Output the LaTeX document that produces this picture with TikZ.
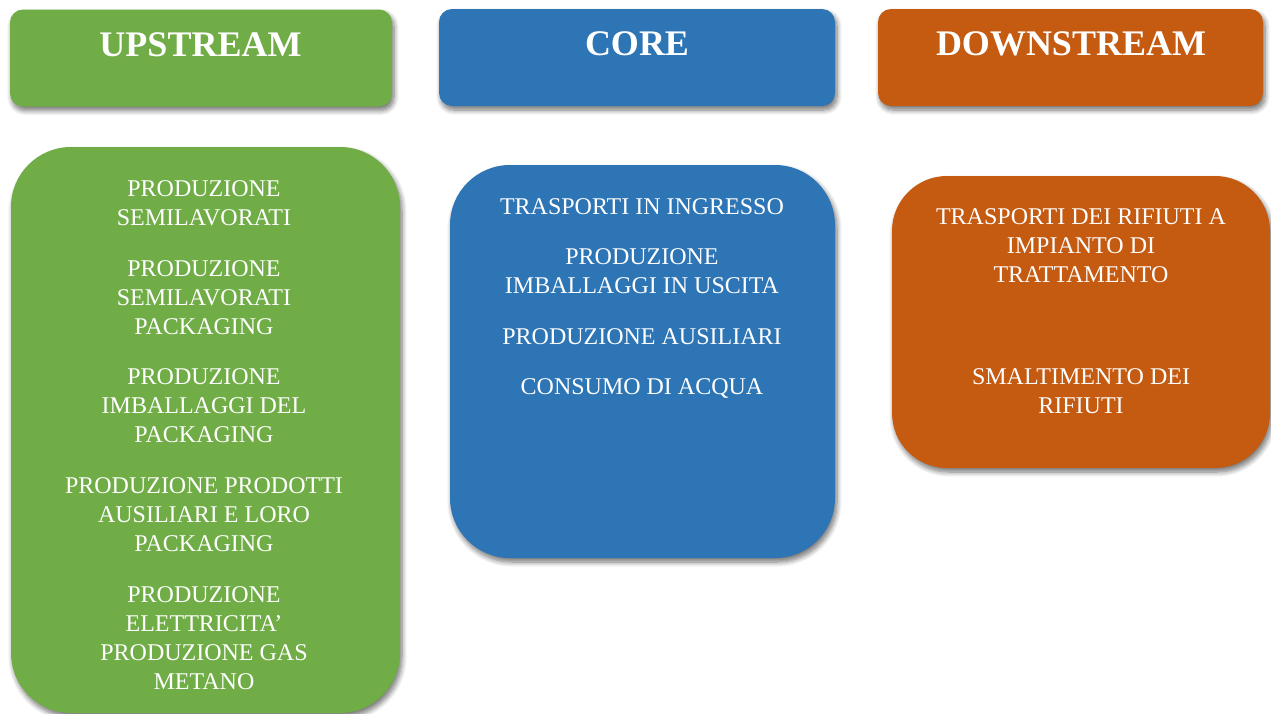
\documentclass[tikz,border=0pt]{standalone}
\usepackage{fontspec}
\setmainfont{Liberation Serif}
\usetikzlibrary{shadows.blur}
\definecolor{upgreen}{HTML}{70AD47}
\definecolor{coreblue}{HTML}{2E75B6}
\definecolor{downorange}{HTML}{C55A11}
\tikzset{
  softshadow/.style={blur shadow={shadow xshift=2pt, shadow yshift=-4pt, shadow blur radius=5pt, shadow blur steps=8, shadow opacity=55}},
  header/.style={rounded corners=13pt, minimum width=#1, minimum height=97pt, inner sep=0pt, softshadow},
  panel/.style={rounded corners=60pt, inner sep=0pt, softshadow},
  htext/.style={text=white, font=\fontsize{36}{40}\selectfont\bfseries, anchor=north, inner sep=0pt},
  itemtext/.style={text=white, font=\fontsize{24}{29}\selectfont, align=center, anchor=north, inner sep=0pt}
}
\begin{document}
\begin{tikzpicture}[x=1pt,y=-1pt]
\useasboundingbox (0,0) rectangle (1271,713);
% headers
\node[header=382pt, fill=upgreen] (hup) at (201,58) {};
\node[header=396pt, fill=coreblue] (hcore) at (637,57.5) {};
\node[header=385pt, fill=downorange] (hdown) at (1070.5,57.5) {};
\node[htext] (tup) at (200.5,32) {UPSTREAM};
\node[htext] (tcore) at (637,31) {CORE};
\node[htext] (tdown) at (1071,31) {DOWNSTREAM};
% panels
\node[panel, fill=upgreen, minimum width=389pt, minimum height=566pt] (pup) at (205.5,430) {};
\node[panel, fill=coreblue, minimum width=385pt, minimum height=393pt] (pcore) at (642.5,361.5) {};
\node[panel, fill=downorange, minimum width=378pt, minimum height=292pt, rounded corners=55pt] (pdown) at (1081,322) {};
% upstream items
\node[itemtext] (u1) at (204,180) {PRODUZIONE\\SEMILAVORATI};
\node[itemtext] (u2) at (204,260) {PRODUZIONE\\SEMILAVORATI\\PACKAGING};
\node[itemtext] (u3) at (204,368) {PRODUZIONE\\IMBALLAGGI DEL\\PACKAGING};
\node[itemtext] (u4) at (204,477) {PRODUZIONE PRODOTTI\\AUSILIARI E LORO\\PACKAGING};
\node[itemtext] (u5) at (204,586) {PRODUZIONE\\ELETTRICITA’\\PRODUZIONE GAS\\METANO};
% core items
\node[itemtext] (c1) at (642,198) {TRASPORTI IN INGRESSO};
\node[itemtext] (c2) at (642,248) {PRODUZIONE\\IMBALLAGGI IN USCITA};
\node[itemtext] (c3) at (642,328) {PRODUZIONE AUSILIARI};
\node[itemtext] (c4) at (642,378) {CONSUMO DI ACQUA};
% downstream items
\node[itemtext] (d1) at (1081,208) {TRASPORTI DEI RIFIUTI A\\IMPIANTO DI\\TRATTAMENTO};
\node[itemtext] (d2) at (1081,368) {SMALTIMENTO DEI\\RIFIUTI};
\end{tikzpicture}
\end{document}
